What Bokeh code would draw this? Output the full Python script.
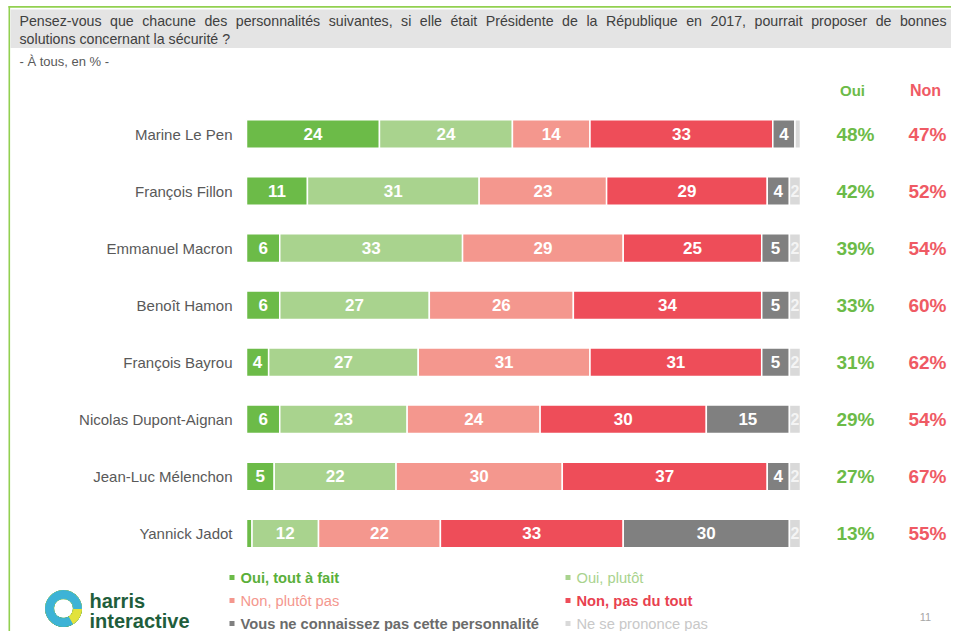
from bokeh.plotting import figure
from bokeh.models import Range1d, Label, BoxAnnotation, ColumnDataSource
from bokeh.embed import file_html
from bokeh.resources import INLINE
from bokeh.core.properties import value
import numpy as np

# ---------------- data ----------------
names = ["Marine Le Pen", "François Fillon", "Emmanuel Macron", "Benoît Hamon",
         "François Bayrou", "Nicolas Dupont-Aignan", "Jean-Luc Mélenchon", "Yannick Jadot"]
oui_tout_a_fait = [24, 11, 6, 6, 4, 6, 5, 1]
oui_plutot = [24, 31, 33, 27, 27, 23, 22, 12]
non_plutot_pas = [14, 23, 29, 26, 31, 24, 30, 22]
non_pas_du_tout = [33, 29, 25, 34, 31, 30, 37, 33]
ne_connait_pas = [4, 4, 5, 5, 5, 15, 4, 30]
nsp = [1, 2, 2, 2, 2, 2, 2, 2]
total_oui = [48, 42, 39, 33, 31, 29, 27, 13]
total_non = [47, 52, 54, 60, 62, 54, 67, 55]
series_labels = ["Oui, tout à fait", "Oui, plutôt", "Non, plutôt pas", "Non, pas du tout",
                 "Vous ne connaissez pas cette personnalité", "Ne se prononce pas"]
title_line1 = ("Pensez-vous que chacune des personnalités suivantes, si elle était Présidente "
               "de la République en 2017, pourrait proposer de bonnes")
title_line2 = "solutions concernant la sécurité ?"
subtitle = "- À tous, en % -"

# ---------------- style ----------------
colors = ["#6cbb48", "#a9d38e", "#f4978e", "#ee4d59", "#808080", "#d9d9d9"]
FONT = "Liberation Sans"
W, H = 951, 631
X0_PX, PX_PER_UNIT = 246.0, 5.54          # 0 % position and scale of the bars
Y0_PX, PX_PER_ROW = 133.5, 57.07           # first row centre and row spacing

x_start = -X0_PX / PX_PER_UNIT
x_end = (W - X0_PX) / PX_PER_UNIT
y_top = -Y0_PX / PX_PER_ROW
y_bottom = (H - Y0_PX) / PX_PER_ROW

def px2x(px):
    return (px - X0_PX) / PX_PER_UNIT

def px2y(py):
    return (py - Y0_PX) / PX_PER_ROW

p = figure(width=W, height=H, output_backend="svg", toolbar_location=None,
           x_range=Range1d(x_start, x_end), y_range=Range1d(y_bottom, y_top),
           x_axis_type=None, y_axis_type=None, min_border=0)
p.outline_line_color = None
p.xgrid.visible = False
p.ygrid.visible = False
p.background_fill_color = "white"

# ---------------- bars ----------------
series = [oui_tout_a_fait, oui_plutot, non_plutot_pas, non_pas_du_tout, ne_connait_pas, nsp]
arr = np.array(series, dtype=float)
cum = np.cumsum(arr, axis=0)
lefts = cum - arr
rows = np.arange(len(names))

seg = dict(y=[], left=[], right=[], color=[])
lab = dict(x=[], y=[], text=[])
lab_nsp = dict(x=[], y=[], text=[])
for s in range(len(series)):
    for i in rows:
        seg["y"].append(int(i))
        seg["left"].append(float(lefts[s, i]))
        seg["right"].append(float(cum[s, i]))
        seg["color"].append(colors[s])
        v = int(arr[s, i])
        target = lab_nsp if s == len(series) - 1 else lab
        if v >= 2:
            target["x"].append(float((lefts[s, i] + cum[s, i]) / 2))
            target["y"].append(int(i))
            target["text"].append(str(v))

p.hbar(y="y", left="left", right="right", height=0.5, fill_color="color",
       line_color="white", line_width=1.5, source=ColumnDataSource(seg))
p.text(x="x", y="y", text="text", source=ColumnDataSource(lab),
       text_color="white", text_font=value(FONT), text_font_style="bold",
       text_font_size="17px", text_align="center", text_baseline="middle")
p.text(x="x", y="y", text="text", source=ColumnDataSource(lab_nsp),
       text_color="#f4f4f4", text_font=value(FONT), text_font_style="bold",
       text_font_size="16px", text_align="center", text_baseline="middle")

# names
p.text(x=[px2x(232)] * len(names), y=list(rows), text=names, text_color="#595959",
       text_font=value(FONT), text_font_size="15px", text_align="right",
       text_baseline="middle")

# totals
p.text(x=[px2x(855)] * len(names), y=list(rows), text=[f"{v}%" for v in total_oui],
       text_color="#6cbb48", text_font=value(FONT), text_font_style="bold",
       text_font_size="19px", text_align="center", text_baseline="middle")
p.text(x=[px2x(927)] * len(names), y=list(rows), text=[f"{v}%" for v in total_non],
       text_color="#ef5a64", text_font=value(FONT), text_font_style="bold",
       text_font_size="19px", text_align="center", text_baseline="middle")

def label(x, y, text, color, size, bold=False, align="left"):
    p.add_layout(Label(x=x, y=H - y, x_units="screen", y_units="screen", text=text,
                       text_color=color, text_font=FONT, text_font_size=size,
                       text_font_style="bold" if bold else "normal",
                       text_align=align, text_baseline="middle"))

def box(l, r, t, b, color):
    p.add_layout(BoxAnnotation(left=l, right=r, top=H - t, bottom=H - b,
                               left_units="screen", right_units="screen",
                               top_units="screen", bottom_units="screen",
                               fill_color=color, fill_alpha=1, line_color=None,
                               level="underlay"))

# frame / title band
box(8, 9.6, 5.5, 639, "#92d050")
box(8, 959, 5.5, 7.2, "#92d050")
box(10, 959, 9, 47.5, "#e4e4e4")

# justified first title line (Arial / Liberation Sans advance widths, per 1000 em)
ADV = {'P': 667, 'R': 722, 'e': 556, 'n': 556, 's': 500, 'z': 500, '-': 333, 'v': 500,
       'o': 556, 'u': 556, 'q': 556, 'c': 500, 'h': 556, 'a': 556, 'd': 556, 'p': 556,
       'r': 333, 'l': 222, 'i': 222, 't': 278, 'é': 556, ',': 278, 'b': 556, 'g': 556}
TITLE_SIZE = 14.2
words = title_line1.split(" ")
wwidths = [sum(ADV.get(ch, 556) for ch in w) * TITLE_SIZE / 1000 for w in words]
left_px, right_px = 19, 946
gap = (right_px - left_px - sum(wwidths)) / (len(words) - 1)
xpos = left_px
for w, ww in zip(words, wwidths):
    label(xpos, 20, w, "#404040", f"{TITLE_SIZE}px")
    xpos += ww + gap
label(19, 38, title_line2, "#404040", f"{TITLE_SIZE}px")
label(19, 61, subtitle, "#595959", "13px")

# column headers
label(852, 90, "Oui", "#6cbb48", "15px", bold=True, align="center")
label(925, 90, "Non", "#ef5a64", "16px", bold=True, align="center")

# legend
legend_pos = [(232, 577), (568, 577), (232, 600), (568, 600), (232, 623), (568, 623)]
legend_text_colors = ["#5aaf3a", "#a9d38e", "#f4978e", "#e8414f", "#6b6b6b", "#c8c8c8"]
legend_bold = [True, False, False, True, True, False]
for (lx, ly), txt, c, tc, b in zip(legend_pos, series_labels, colors, legend_text_colors, legend_bold):
    box(lx - 3, lx + 2, ly - 2.5, ly + 2.5, c)
    label(lx + 8, ly, txt, tc, "14.7px", bold=b)

# logo
lx, ly = px2x(63), px2y(608)
wedges = [(0, 50, "#3aa84f"), (50, 175, "#1d6e3c"), (175, 235, "#7fbf3a"),
          (235, 300, "#e2e23c"), (300, 360, "#3db3d6")]
for a0, a1, c in wedges:
    p.annular_wedge(x=lx, y=ly, inner_radius=10, outer_radius=18,
                    inner_radius_units="screen", outer_radius_units="screen",
                    start_angle=np.deg2rad(a0), end_angle=np.deg2rad(a1),
                    color=c, direction="clock")
label(89, 600, "harris", "#1f5e3c", "20px", bold=True)
label(89, 620, "interactive", "#1f5e3c", "20px", bold=True)

# page number
label(925, 616, "11", "#a6a6a6", "11px", align="center")

open("out.html", "w").write(file_html(p, INLINE))
